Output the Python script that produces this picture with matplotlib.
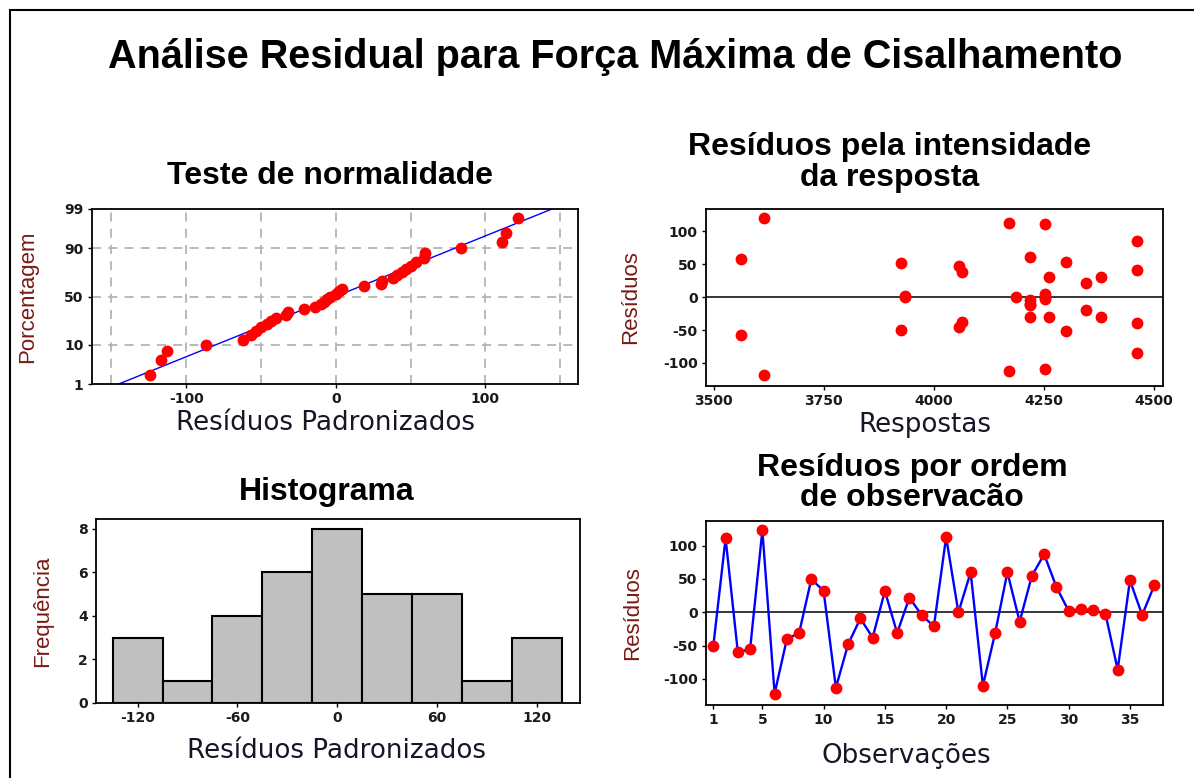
import matplotlib
matplotlib.use("Agg")
import matplotlib.pyplot as plt
from matplotlib.patches import Rectangle
from statistics import NormalDist
import numpy as np

plt.rcParams["axes.unicode_minus"] = False

# ---- data -------------------------------------------------------------
# sorted standardized residuals (normal probability plot)
prob_residuals = [-124, -117, -113, -87, -62, -57, -53, -50, -46, -43, -40,
                  -33, -32, -21, -14, -10, -8, -6, -4, 0, 2, 4, 19, 30, 31,
                  38, 41, 44, 47, 50, 54, 59, 60, 84, 111, 114, 122]
prob_ticks = [1, 10, 50, 90, 99]

# residuals versus fitted response
fitted = [3562, 3562, 3613, 3613, 3926, 3926, 3934, 3934, 4057, 4063, 4057,
          4063, 4172, 4172, 4187, 4219, 4219, 4219, 4219, 4219, 4253, 4253,
          4253, 4253, 4253, 4262, 4262, 4300, 4300, 4347, 4347, 4380, 4380,
          4463, 4463, 4463, 4463]
fit_resid = [58, -57, 121, -119, 52, -50, 0, 2, 47, 39, -45, -38, 113, -112,
             0, 61, -5, -10, -12, -30, 111, -109, 5, -3, 0, 31, -30, 53, -52,
             22, -20, 31, -30, 86, 41, -40, -85]

# histogram of residuals
hist_centers = [-120, -90, -60, -30, 0, 30, 60, 90, 120]
hist_counts = [3, 1, 4, 6, 8, 5, 5, 1, 3]
hist_width = 30

# residuals in observation order
order_resid = [-50, 111, -60, -55, 123, -122, -40, -31, 50, 32, -113, -48, -9,
               -38, 32, -31, 22, -4, -21, 113, 0, 60, -110, -31, 60, -14, 55,
               87, 38, 2, 5, 3, -2, -86, 48, -4, 41]
order_obs = list(range(1, len(order_resid) + 1))

# ---- style ------------------------------------------------------------
W, H = 1194, 778
RED = "#ff0000"
BLUE = "#0000ff"
YLAB = "#7a1a14"
XLAB = "#161626"
TITLE_FONT = ["Liberation Sans", "DejaVu Sans"]
NARROW_FONT = ["Liberation Sans Narrow", "Liberation Sans", "DejaVu Sans"]
TICK_FONT = ["DejaVu Sans"]
LABEL_FONT = ["DejaVu Sans"]

fig = plt.figure(figsize=(W / 100, H / 100), dpi=100)
fig.patch.set_facecolor("white")


def px_axes(left, top, right, bottom):
    return fig.add_axes([left / W, 1 - bottom / H, (right - left) / W,
                         (bottom - top) / H])


def fig_text(x, y, s, size, weight="bold", family=TITLE_FONT, **kw):
    fig.text(x / W, 1 - y / H, s, ha="center", va="center", fontsize=size,
             fontweight=weight, family=family, **kw)


def style_axes(ax):
    for sp in ax.spines.values():
        sp.set_linewidth(1.3)
        sp.set_color("black")
    ax.tick_params(direction="out", length=3, width=1, pad=3,
                   labelsize=10, colors="black", labelcolor="#1a1a1a")
    for lab in ax.get_xticklabels() + ax.get_yticklabels():
        lab.set_fontweight("bold")
        lab.set_family(TICK_FONT)


def ylabel(ax, s, xpos):
    ax.set_ylabel(s, fontsize=16, family=NARROW_FONT, color=YLAB)
    ax.yaxis.set_label_coords(xpos, 0.5)


def xlabel(ax, s, xpos, ypos, size=18.8):
    ax.set_xlabel(s, fontsize=size, family=LABEL_FONT, color=XLAB)
    ax.xaxis.set_label_coords(xpos, ypos)


# outer frame
fig.add_artist(Rectangle((10 / W, -0.02), 1.2, 1 - 10 / H + 0.02,
                         transform=fig.transFigure, fill=False,
                         edgecolor="black", linewidth=1.5))

fig_text(615, 57, "Análise Residual para Força Máxima de Cisalhamento", 28.5)

# ---- normal probability plot -----------------------------------------
nd = NormalDist()
ax1 = px_axes(92, 209, 578, 384)
n = len(prob_residuals)
ranks = np.arange(1, n + 1)
positions = (ranks - 0.3) / (n + 0.4)          # median ranks
zs = [nd.inv_cdf(p) for p in positions]
mu = float(np.mean(prob_residuals))
sd = float(np.std(prob_residuals, ddof=1))
z_lo, z_hi = nd.inv_cdf(0.01), nd.inv_cdf(0.99)
for gx in [-150, -100, -50, 0, 50, 100, 150]:
    ax1.axvline(gx, color="#b4b4b4", lw=1.3, dashes=(5, 4), zorder=0)
for gy in [10, 50, 90]:
    ax1.axhline(nd.inv_cdf(gy / 100), color="#b4b4b4", lw=1.3,
                dashes=(5, 4), zorder=0)
line_x = np.array([mu + z_lo * sd, mu + z_hi * sd])
ax1.plot(line_x, [z_lo, z_hi], color=BLUE, lw=1.0, zorder=2)
ax1.plot(prob_residuals, zs, "o", color=RED, ms=7.5, mec=RED, zorder=3)
ax1.set_xlim(-163, 162)
ax1.set_ylim(z_lo, z_hi)
ax1.set_xticks([-100, 0, 100])
ax1.set_yticks([nd.inv_cdf(p / 100) for p in prob_ticks])
ax1.set_yticklabels([str(p) for p in prob_ticks])
style_axes(ax1)
ylabel(ax1, "Porcentagem", -0.111)
xlabel(ax1, "Resíduos Padronizados", 0.481, -0.15)
fig_text(330, 176, "Teste de normalidade", 23)

# ---- residuals vs fitted ---------------------------------------------
ax2 = px_axes(706, 209, 1163, 386)
ax2.axhline(0, color="black", lw=1.1, zorder=1)
ax2.plot(fitted, fit_resid, "o", color=RED, ms=7.5, mec=RED, zorder=3)
ax2.set_xlim(3482, 4521)
ax2.set_ylim(-135, 134)
ax2.set_xticks([3500, 3750, 4000, 4250, 4500])
ax2.set_yticks([-100, -50, 0, 50, 100])
style_axes(ax2)
ylabel(ax2, "Resíduos", -0.142)
xlabel(ax2, "Respostas", 0.479, -0.147)
fig_text(890, 147, "Resíduos pela intensidade", 23)
fig_text(890, 178, "da resposta", 23)

# ---- histogram --------------------------------------------------------
ax3 = px_axes(96, 519, 580, 703)
ax3.bar(hist_centers, hist_counts, width=hist_width, color="#c0c0c0",
        edgecolor="black", linewidth=1.5)
ax3.set_xlim(-145, 146)
ax3.set_ylim(0, 8.45)
ax3.set_xticks([-120, -60, 0, 60, 120])
ax3.set_yticks([0, 2, 4, 6, 8])
style_axes(ax3)
ylabel(ax3, "Frequência", -0.089)
xlabel(ax3, "Resíduos Padronizados", 0.496, -0.19)
fig_text(327, 492, "Histograma", 23)

# ---- residuals vs observation order ----------------------------------
ax4 = px_axes(706, 521, 1163, 705)
ax4.axhline(0, color="black", lw=1.1, zorder=1)
ax4.plot(order_obs, order_resid, "-", color=BLUE, lw=1.7, zorder=2)
ax4.plot(order_obs, order_resid, "o", color=RED, ms=7.5, mec=RED, zorder=3)
ax4.set_xlim(0.4, 37.7)
ax4.set_ylim(-139, 137)
ax4.set_xticks([1, 5, 10, 15, 20, 25, 30, 35])
ax4.set_yticks([-100, -50, 0, 50, 100])
style_axes(ax4)
ylabel(ax4, "Resíduos", -0.138)
xlabel(ax4, "Observações", 0.438, -0.207)
fig_text(912, 468, "Resíduos por ordem", 23)
fig_text(912, 498, "de observacão", 23)

fig.savefig("out.png", dpi=100, facecolor="white")
